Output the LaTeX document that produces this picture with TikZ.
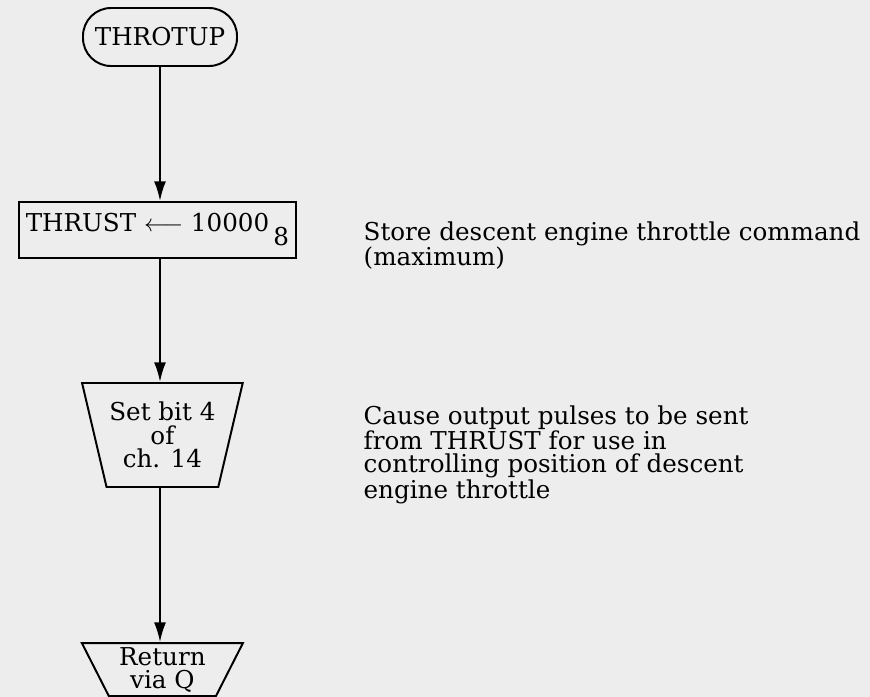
\documentclass[tikz,border=0pt]{standalone}
\usepackage{fontspec}
\setmainfont{DejaVu Serif}
\usetikzlibrary{shapes.geometric}
\usetikzlibrary{arrows.meta}

\begin{document}
\begin{tikzpicture}[>={Latex[length=14pt,width=8.5pt]}, line width=1.4pt,
		every node/.style={font=\fontsize{17.5pt}{16.5pt}\selectfont},
		trap/.style={draw, trapezium, shape border rotate=180, trapezium stretches body, align=center, inner sep=2pt}]
			%page
			\fill [black!7] (0,0) rectangle (21.75,-17.425);
			\useasboundingbox (0,0) rectangle (21.75,-17.425);
			%entry
			\node [draw, rounded corners=7mm, minimum width=3.85cm, minimum height=1.45cm] at (4,-0.925) (start) {THROTUP};
			%thrust store box
			\node [draw, anchor=east, minimum height=1.4cm, inner sep=5pt] at (7.425,-5.75) (store) {THRUST $\longleftarrow$ 10000\,\raisebox{-1.1ex}{8}};
			%channel bit
			\node [trap, trapezium angle=71, minimum width=3.725cm, minimum height=2.6cm] at (4.06,-10.875) (setbit) {Set bit 4\\of\\ch. 14};
			%exit
			\node [trap, trapezium angle=62, minimum width=4.025cm, minimum height=1.325cm] at (4.06,-16.74) (ret) {Return\\via Q};

			% flow
			\draw [->] (start.south) -- (start.south |- store.north);
			\draw [->] (start.south |- store.south) -- (start.south |- setbit.north);
			\draw [->] (start.south |- setbit.south) -- (start.south |- ret.north);

			% notes
			\node [anchor=north west, align=left] at (8.95,-5.4) (note1) {Store descent engine throttle command\\(maximum)};
			\node [anchor=north west, align=left] at (8.95,-10.0) (note2) {Cause output pulses to be sent\\from THRUST for use in\\controlling position of descent\\engine throttle};
		\end{tikzpicture}
\end{document}
